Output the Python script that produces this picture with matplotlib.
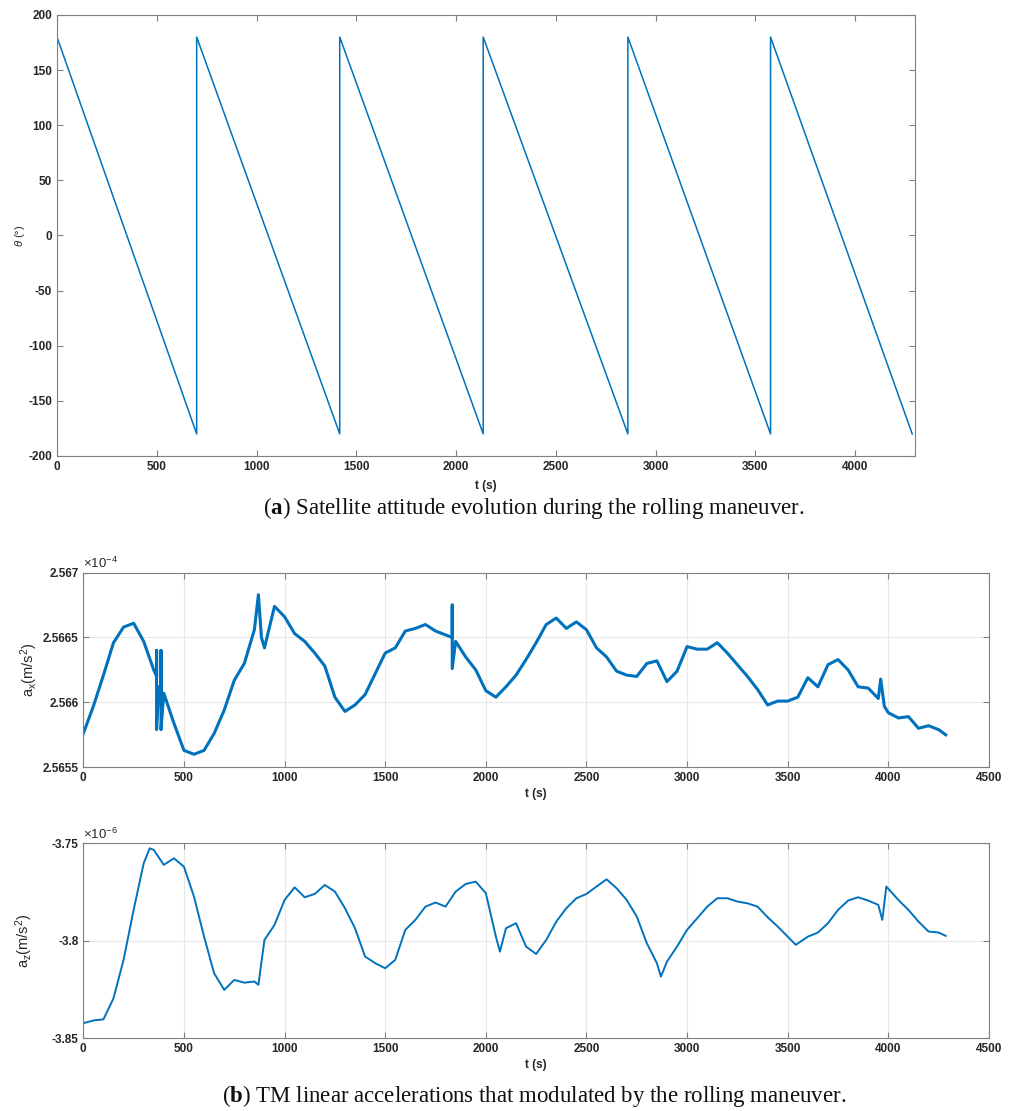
import matplotlib.pyplot as plt

# panel (a): attitude angle, sawtooth corners
theta_t = [0, 700, 700, 1417, 1417, 2136, 2136, 2861, 2861, 3576, 3576, 4286]
theta_deg = [180, -180, 180, -180, 180, -180, 180, -180, 180, -180, 180, -180]

# panel (b) top: a_x in units of 1e-4 m/s^2
ax_t = [0, 50, 100, 150, 200, 250, 300, 350, 364, 364, 364, 375, 386, 386, 386,
        400, 450, 500, 550, 600, 650, 700, 750, 800, 850, 870, 885, 900, 950,
        1000, 1050, 1100, 1150, 1200, 1250, 1300, 1350, 1400, 1450, 1500, 1550,
        1600, 1650, 1700, 1750, 1800, 1833, 1833, 1833, 1850, 1900, 1950, 2000,
        2050, 2100, 2150, 2200, 2250, 2300, 2350, 2400, 2450, 2500, 2550, 2600,
        2650, 2700, 2750, 2800, 2850, 2900, 2950, 3000, 3050, 3100, 3150, 3200,
        3250, 3300, 3350, 3400, 3450, 3500, 3550, 3600, 3650, 3700, 3750, 3800,
        3850, 3900, 3950, 3962, 3980, 4000, 4050, 4100, 4150, 4200, 4250, 4285]
ax_val = [2.56576, 2.56597, 2.56621, 2.56646, 2.56658, 2.56661, 2.56647, 2.56625,
          2.56620, 2.56640, 2.56579, 2.56612, 2.56608, 2.56640, 2.56579,
          2.56607, 2.56584, 2.56563, 2.56560, 2.56563, 2.56576, 2.56594, 2.56617,
          2.56630, 2.56656, 2.56683, 2.56650, 2.56642, 2.56674,
          2.56666, 2.56653, 2.56647, 2.56638, 2.56628, 2.56604, 2.56593, 2.56598,
          2.56606, 2.56622, 2.56638, 2.56642, 2.56655, 2.56657, 2.56660, 2.56655,
          2.56652, 2.56650, 2.56675, 2.56626, 2.56647, 2.56635, 2.56625, 2.56609,
          2.56604, 2.56612, 2.56621, 2.56633, 2.56646, 2.56660, 2.56665, 2.56657,
          2.56662, 2.56656, 2.56642, 2.56635, 2.56624, 2.56621, 2.56620, 2.56630,
          2.56632, 2.56616, 2.56624, 2.56643, 2.56641, 2.56641, 2.56646, 2.56638,
          2.56629, 2.56620, 2.56610, 2.56598, 2.56601, 2.56601, 2.56604, 2.56619,
          2.56612, 2.56629, 2.56633, 2.56625, 2.56612, 2.56611, 2.56603, 2.56618,
          2.56597, 2.56592, 2.56588, 2.56589, 2.56580, 2.56582, 2.56579, 2.56575]

# panel (b) bottom: a_z in units of 1e-6 m/s^2
az_t = [0, 50, 100, 150, 200, 250, 300, 330, 350, 400, 450, 500, 550, 600, 650,
        700, 750, 800, 850, 870, 900, 950, 1000, 1050, 1100, 1150, 1200, 1250,
        1300, 1350, 1400, 1450, 1500, 1550, 1600, 1650, 1700, 1750, 1800, 1850,
        1900, 1950, 2000, 2050, 2070, 2100, 2150, 2200, 2250, 2300, 2350, 2400,
        2450, 2500, 2550, 2600, 2650, 2700, 2750, 2800, 2850, 2870, 2900, 2950,
        3000, 3050, 3100, 3150, 3200, 3250, 3300, 3350, 3400, 3450, 3500, 3540,
        3600, 3650, 3700, 3750, 3800, 3850, 3900, 3950, 3970, 3990, 4050, 4100,
        4150, 4200, 4250, 4285]
az_val = [-3.8423, -3.8409, -3.8403, -3.8295, -3.8098, -3.7842, -3.7603, -3.7526,
          -3.7534, -3.7611, -3.7577, -3.7620, -3.7774, -3.7979, -3.8167, -3.8252,
          -3.8201, -3.8215, -3.8209, -3.8226, -3.7996, -3.7919, -3.7791, -3.7726,
          -3.7777, -3.7760, -3.7714, -3.7748, -3.7833, -3.7936, -3.8081, -3.8115,
          -3.8141, -3.8098, -3.7944, -3.7893, -3.7825, -3.7804, -3.7825, -3.7748,
          -3.7709, -3.7697, -3.7756, -3.7979, -3.8056, -3.7936, -3.7910, -3.8030,
          -3.8068, -3.7996, -3.7902, -3.7833, -3.7782, -3.7760, -3.7722, -3.7685,
          -3.7731, -3.7791, -3.7876, -3.8013, -3.8115, -3.8184, -3.8107, -3.8030,
          -3.7944, -3.7885, -3.7825, -3.7782, -3.7782, -3.7799, -3.7808, -3.7825,
          -3.7879, -3.7927, -3.7979, -3.8021, -3.7979, -3.7958, -3.7910, -3.7842,
          -3.7794, -3.7777, -3.7794, -3.7816, -3.7893, -3.7722, -3.7791, -3.7842,
          -3.7902, -3.7953, -3.7958, -3.7975]

blue = '#0072BD'
edge = '#808080'
plt.rcParams['font.family'] = ['Liberation Sans', 'DejaVu Sans']
plt.rcParams['axes.unicode_minus'] = False
plt.rcParams['mathtext.fontset'] = 'custom'
plt.rcParams['mathtext.rm'] = 'Liberation Sans'
plt.rcParams['mathtext.it'] = 'Liberation Sans:italic'
plt.rcParams['mathtext.bf'] = 'Liberation Serif:bold'


def style(ax, grid):
    for s in ax.spines.values():
        s.set_color(edge)
        s.set_linewidth(0.8)
    ax.tick_params(direction='in', top=True, right=True, colors=edge,
                   labelcolor='#262626', labelsize=8.5, length=4)
    for lab in ax.get_xticklabels() + ax.get_yticklabels():
        lab.set_fontweight('bold')
    if grid:
        ax.grid(True, color='#e8e8e8', linewidth=0.8)
        ax.set_axisbelow(True)


fig = plt.figure(figsize=(10.16, 11.11), dpi=100)

a = fig.add_axes([0.0561, 0.5896, 0.8445, 0.3969])
a.plot(theta_t, theta_deg, color=blue, linewidth=1.1)
a.set_xlim(0, 4300)
a.set_ylim(-200, 200)
a.set_xticks(range(0, 4001, 500))
a.set_yticks(range(-200, 201, 50))
style(a, False)
a.set_xlabel('t (s)', fontsize=8.5, fontweight='bold', color='#262626', labelpad=5)
a.set_ylabel(r'$\theta$ (°)', fontsize=8, color='#262626', labelpad=1)

b1 = fig.add_axes([0.082, 0.3094, 0.8914, 0.1752])
b1.plot(ax_t, ax_val, color=blue, linewidth=2.2)
b1.set_xlim(0, 4500)
b1.set_ylim(2.5655, 2.567)
b1.set_xticks(range(0, 4501, 500))
b1.set_yticks([2.5655, 2.566, 2.5665, 2.567])
b1.set_yticklabels(['2.5655', '2.566', '2.5665', '2.567'])
style(b1, True)
b1.set_xlabel('t (s)', fontsize=8.5, fontweight='bold', color='#262626', labelpad=3)
b1.set_ylabel(r'a$_\mathregular{x}$(m/s$^\mathregular{2}$)', fontsize=10.5,
              color='#262626', labelpad=2)
b1.text(0.0, 1.008, r'$\times$10$^\mathregular{-4}$', transform=b1.transAxes,
        fontsize=9.5, color='#262626', ha='left', va='bottom')

b2 = fig.add_axes([0.082, 0.0655, 0.8914, 0.1755])
b2.plot(az_t, az_val, color=blue, linewidth=1.4)
b2.set_xlim(0, 4500)
b2.set_ylim(-3.85, -3.75)
b2.set_xticks(range(0, 4501, 500))
b2.set_yticks([-3.85, -3.8, -3.75])
b2.set_yticklabels(['-3.85', '-3.8', '-3.75'])
style(b2, True)
b2.set_xlabel('t (s)', fontsize=8.5, fontweight='bold', color='#262626', labelpad=3)
b2.set_ylabel(r'a$_\mathregular{z}$(m/s$^\mathregular{2}$)', fontsize=10.5,
              color='#262626', labelpad=12)
b2.text(0.0, 1.008, r'$\times$10$^\mathregular{-6}$', transform=b2.transAxes,
        fontsize=9.5, color='#262626', ha='left', va='bottom')

cap = dict(fontsize=16.5, family='Liberation Serif', color='#111111', va='center')
fig.text(0.5256, 1 - 508 / 1111, r'($\mathbf{a}$) Satellite attitude evolution during the rolling maneuver.',
         ha='center', **cap)
fig.text(0.5256, 1 - 1096 / 1111, r'($\mathbf{b}$) TM linear accelerations that modulated by the rolling maneuver.',
         ha='center', **cap)

fig.savefig('out.png', dpi=100)
